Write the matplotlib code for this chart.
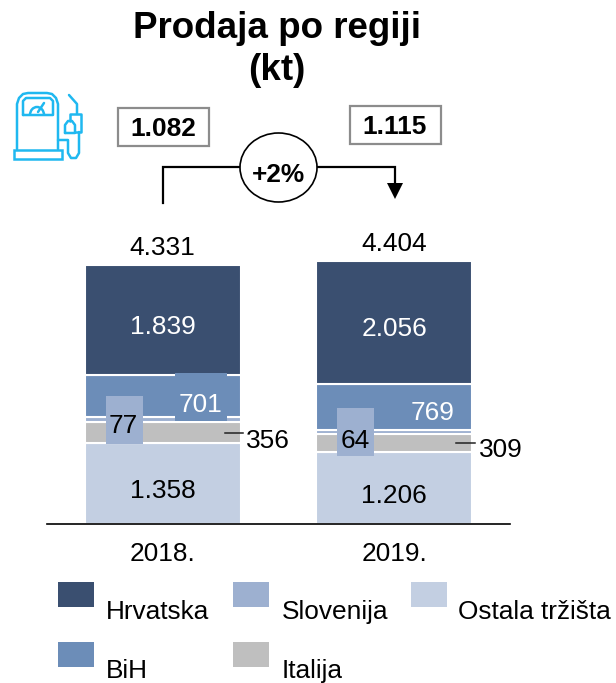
import matplotlib
matplotlib.use("Agg")
import matplotlib.pyplot as plt
from matplotlib.patches import Ellipse, Polygon, Rectangle, Arc

plt.rcParams["font.family"] = ["Liberation Sans", "DejaVu Sans"]

years = ["2018.", "2019."]
ostala = [1358, 1206]
italija = [356, 309]
slovenija = [77, 64]
bih = [701, 769]
hrvatska = [1839, 2056]
totals = ["4.331", "4.404"]
bih_labels = ["701", "769"]
hr_labels = ["1.839", "2.056"]
ostala_labels = ["1.358", "1.206"]
tonnage = ["1.082", "1.115"]
change = "+2%"

C_HR = "#3A4F70"
C_BIH = "#6C8DB8"
C_SLO = "#9DB0D0"
C_ITA = "#BFBFBF"
C_OST = "#C3CFE2"
CYAN = "#1FB8F0"
FS = 18.9

fig = plt.figure(figsize=(6.16, 6.83), dpi=100)

# overlay in image pixels for title, callouts, legend and icon
ov = fig.add_axes([0, 0, 1, 1])
ov.set_xlim(0, 616)
ov.set_ylim(683, 0)
ov.axis("off")

ax = fig.add_axes([47 / 616, (683 - 524) / 683, 463 / 616, 324 / 683])
ax.patch.set_alpha(0)

# stacked bars, bottom to top
bottom = [0, 0]
starts = {}
for name, vals, col in [("ost", ostala, C_OST), ("ita", italija, C_ITA), ("slo", slovenija, C_SLO),
                        ("bih", bih, C_BIH), ("hr", hrvatska, C_HR)]:
    ax.bar([0, 1], vals, 0.672, bottom=bottom, color=col, edgecolor="white", linewidth=1.5)
    starts[name] = list(bottom)
    bottom = [b + v for b, v in zip(bottom, vals)]

ax.set_xlim(-0.5, 1.5)
ax.set_ylim(0, 324 / 0.0597)
ax.set_yticks([])
ax.set_xticks([0, 1], years, fontsize=FS)
ax.tick_params(axis="x", length=0, pad=13)
for s in ["top", "left", "right"]:
    ax.spines[s].set_visible(False)
ax.spines["bottom"].set_linewidth(1.2)

# boxes behind the 77 / 701 / 64 labels
for x, y, w, h, col in [(106, 396, 37, 48, C_SLO), (175, 373, 52, 48, C_BIH), (337, 408, 37, 48, C_SLO)]:
    ax.add_patch(Rectangle((x, y), w, h, fc=col, ec="none", zorder=4, transform=ov.transData, clip_on=False))


def label(i, y, text, dx=0, dy=0, color="black"):
    # dx, dy are screen pixels from the data anchor
    ax.annotate(text, (i, y), xytext=(dx * 0.72, dy * 0.72), textcoords="offset points",
                ha="center", va="center", fontsize=FS, color=color, zorder=5, annotation_clip=False)


for i in range(2):
    label(i, starts["ost"][i] + ostala[i] / 2, ostala_labels[i], dy=-8)
    label(i, starts["hr"][i] + hrvatska[i] / 2, hr_labels[i], dy=-7, color="white")
    label(i, bottom[i], totals[i], dy=17)

label(0, starts["bih"][0] + bih[0] / 2, bih_labels[0], dx=38, dy=-9, color="white")
label(1, starts["bih"][1] + bih[1] / 2, bih_labels[1], dx=38, dy=-6, color="white")
label(0, starts["slo"][0] + slovenija[0] / 2, str(slovenija[0]), dx=-40, dy=-7)
label(1, starts["slo"][1] + slovenija[1] / 2, str(slovenija[1]), dx=-39.5, dy=-9)
label(0, starts["ita"][0] + italija[0] / 2, str(italija[0]), dx=105, dy=-9)
label(1, starts["ita"][1] + italija[1] / 2, str(italija[1]), dx=106.5, dy=-7)

ov.set_zorder(3)
ax.set_zorder(1)

ov.text(277, 29, "Prodaja po regiji", ha="center", va="center", fontsize=26.5, fontweight="bold")
ov.text(277, 71, "(kt)", ha="center", va="center", fontsize=26.5, fontweight="bold")

# leader lines
ov.plot([225, 243], [432.5, 432.5], color="#222222", lw=1.1)
ov.plot([456, 475], [443, 443], color="#222222", lw=1.1)

# callout boxes and growth arrow
for x, y, t in [(117.5, 108, tonnage[0]), (349.5, 106, tonnage[1])]:
    ov.add_patch(Rectangle((x, y), 91, 38, fc="white", ec="#8C8C8C", lw=1.6))
    ov.text(x + 45.5, y + 20.5, t, ha="center", va="center", fontsize=FS, fontweight="bold")
ov.plot([162.5, 162.5, 395, 395], [203, 167, 167, 186], color="black", lw=1.6, solid_joinstyle="miter")
ov.add_patch(Polygon([(387, 183), (403, 183), (395, 199)], fc="black", ec="none"))
ov.add_patch(Ellipse((278.5, 167.5), 77, 69, fc="white", ec="black", lw=1.2, zorder=3))
ov.text(278.5, 175, change, ha="center", va="center", fontsize=FS, fontweight="bold", zorder=4)

# legend
for x, y, col, t, tx, ty in [(58, 582, C_HR, "Hrvatska", 106, 612), (233, 582, C_SLO, "Slovenija", 282, 612),
                             (411, 582, C_OST, "Ostala tržišta", 458, 612), (58, 642, C_BIH, "BiH", 106, 671),
                             (233, 642, C_ITA, "Italija", 282, 671)]:
    ov.add_patch(Rectangle((x, y), 36, 25, fc=col, ec="none"))
    ov.text(tx, ty, t, ha="left", va="center", fontsize=FS)

# fuel pump icon
lw = 1.8
ic = dict(color=CYAN, lw=lw, solid_capstyle="round", solid_joinstyle="round")
ov.plot([17, 17, 19, 23, 28, 47, 52, 56, 58, 58], [149, 104, 98, 94, 93, 93, 94, 98, 104, 149], **ic)
ov.add_patch(Rectangle((13.5, 149.5), 48, 9, fc="none", ec=CYAN, lw=lw))
ov.plot([23, 23, 26, 50, 53, 53, 23], [115, 101, 98, 98, 101, 115, 115], **ic)
ov.add_patch(Arc((37, 115), 14, 16, theta1=180, theta2=360, ec=CYAN, lw=lw))
ov.plot([38, 44], [112, 103], **ic)
ov.plot([69, 77, 77], [95, 104, 114], **ic)
ov.plot([70, 70, 81, 81, 75], [121, 114, 114, 132, 132], **ic)
ov.plot([65, 65, 68, 72, 75, 75, 65], [133, 125, 121, 121, 125, 133, 133], **ic)
ov.plot([58, 68, 68, 71, 76, 79, 79], [140, 140, 153, 158, 158, 153, 132], **ic)

fig.savefig("out.png", dpi=100)
